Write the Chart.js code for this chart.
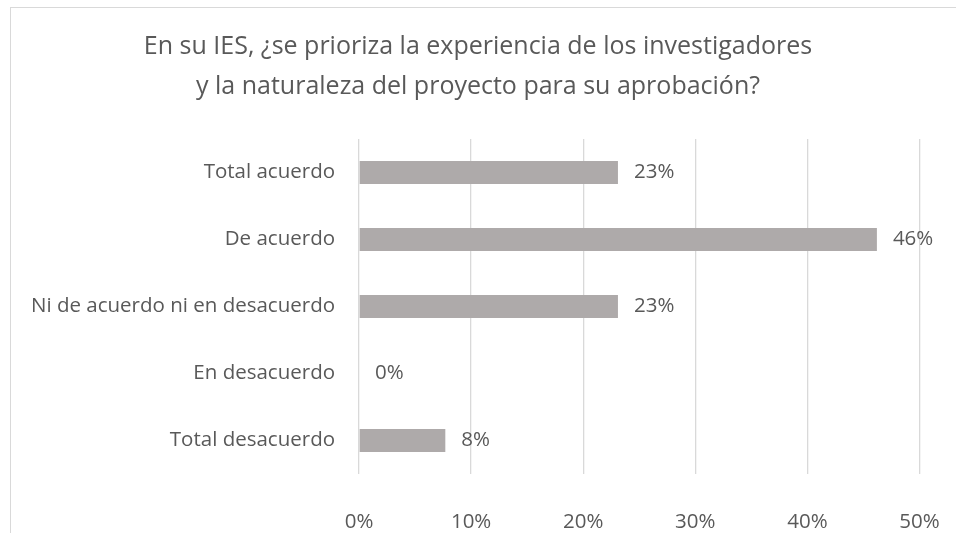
<!DOCTYPE html>
<html>
<head>
<meta charset="utf-8">
<script src="https://cdn.jsdelivr.net/npm/chart.js@4/dist/chart.umd.min.js"></script>
<style>
html,body{margin:0;padding:0;background:#fff;overflow:hidden;}
#wrap{position:relative;width:956px;height:533px;overflow:hidden;}
#frame{position:absolute;left:10px;top:7px;width:1100px;height:700px;border:1px solid #d9d9d9;box-sizing:border-box;}
canvas{position:absolute;left:0;top:0;}
</style>
</head>
<body>
<div id="wrap">
<div id="frame"></div>
<canvas id="c" width="956" height="533"></canvas>
</div>
<script>
const titleLines = ["En su IES, ¿se prioriza la experiencia de los investigadores", "y la naturaleza del proyecto para su aprobación?"];
const categories = ["Total acuerdo", "De acuerdo", "Ni de acuerdo ni en desacuerdo", "En desacuerdo", "Total desacuerdo"];
const values = [0.231, 0.462, 0.231, 0, 0.077];
const tickValues = [0, 0.1, 0.2, 0.3, 0.4, 0.5];

const TEXT = '#595959';
const FONT = "'Open Sans', sans-serif";

const labelPlugin = {
  id: 'barLabels',
  afterDatasetsDraw(chart) {
    const ctx = chart.ctx;
    const meta = chart.getDatasetMeta(0);
    ctx.save();
    ctx.font = "20.5px " + FONT;
    ctx.fillStyle = TEXT;
    ctx.textAlign = 'left';
    ctx.textBaseline = 'middle';
    meta.data.forEach((el, i) => {
      const v = chart.data.datasets[0].data[i];
      ctx.fillText(Math.round(v * 100) + '%', el.x + 16, el.y);
    });
    ctx.restore();
  }
};

new Chart(document.getElementById('c'), {
  type: 'bar',
  data: {
    labels: categories,
    datasets: [{
      data: values,
      backgroundColor: '#aeaaaa',
      borderWidth: 0,
      barPercentage: 0.343,
      categoryPercentage: 1
    }]
  },
  options: {
    indexAxis: 'y',
    responsive: false,
    animation: false,
    layout: { padding: { left: 17, right: 17, top: 0, bottom: 0 } },
    plugins: {
      legend: { display: false },
      tooltip: { enabled: false },
      title: {
        display: true,
        text: titleLines,
        color: TEXT,
        font: { family: FONT, size: 25, weight: 'normal', lineHeight: 1.6 },
        padding: { top: 27, bottom: 32 }
      }
    },
    scales: {
      x: {
        min: 0, max: 0.5,
        afterBuildTicks: s => { s.ticks = tickValues.map(v => ({ value: v })); },
        afterFit: s => { s.height = 59; s.paddingLeft = 0; s.paddingRight = 36.5; },
        grid: { color: '#d9d9d9', lineWidth: 1.3, drawTicks: false },
        border: { display: false },
        ticks: {
          color: TEXT,
          padding: 36,
          font: { family: FONT, size: 20.5 },
          callback: v => Math.round(v * 100) + '%'
        }
      },
      y: {
        afterFit: s => { s.width = 342; },
        grid: { display: false, drawTicks: false },
        border: { display: false },
        ticks: {
          color: TEXT,
          padding: 24,
          font: { family: FONT, size: 20.5 }
        }
      }
    }
  },
  plugins: [labelPlugin]
});
</script>
</body>
</html>
